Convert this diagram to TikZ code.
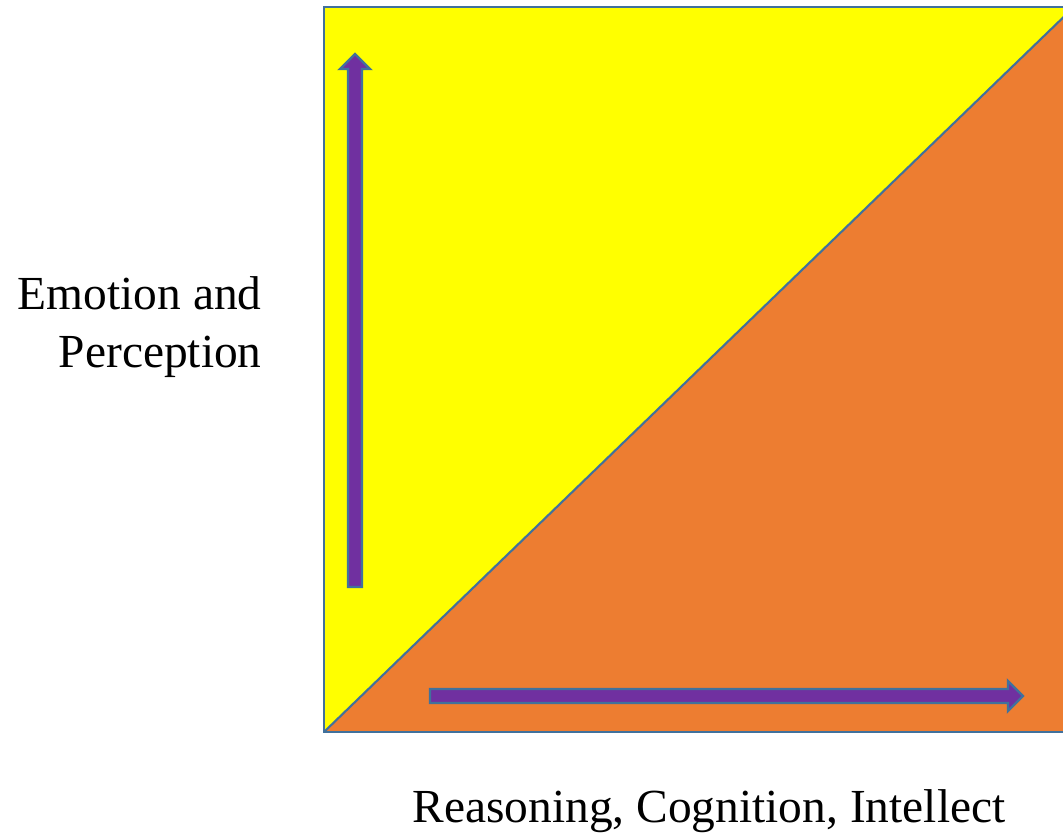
\documentclass[tikz,border=0pt]{standalone}
\usepackage{fontspec}
\setmainfont{Liberation Serif}
\definecolor{sunyellow}{HTML}{FFFF00}
\definecolor{warmorange}{HTML}{ED7D31}
\definecolor{arrowpurple}{HTML}{7030A0}
\definecolor{edgeblue}{HTML}{41719C}
\tikzset{
  blockarrow/.style={fill=arrowpurple, draw=edgeblue, line width=1.4pt, line join=miter},
  axislabel/.style={font=\fontsize{27}{33}\selectfont, inner sep=0pt}
}
\begin{document}
\begin{tikzpicture}[x=0.02cm, y=-0.02cm]
  \useasboundingbox (0,0) rectangle (1063,838);
  \begin{scope}
    \clip (0,0) rectangle (1063,838);
    \fill[sunyellow] (324,7) rectangle (1074,732);
    \fill[warmorange] (324,732) -- (1074,7) -- (1074,732) -- cycle;
    \draw[edgeblue, line width=1.2pt] (324,7) rectangle (1074,732);
    \draw[edgeblue, line width=1.2pt] (324,732) -- (1074,7);
  \end{scope}

  % vertical arrow
  \draw[blockarrow] (348,587) -- (348,69) -- (340,69) -- (355,54) -- (370,69)
    -- (362,69) -- (362,587) -- cycle;
  % horizontal arrow
  \draw[blockarrow] (430,689) -- (1008,689) -- (1008,681) -- (1023,696) -- (1008,711)
    -- (1008,703) -- (430,703) -- cycle;

  \node[axislabel, anchor=east, align=right] (emotion) at (262,327)
    {Emotion and\\Perception};
  \node[axislabel] (reason) at (709,811) {Reasoning, Cognition, Intellect};
\end{tikzpicture}
\end{document}
